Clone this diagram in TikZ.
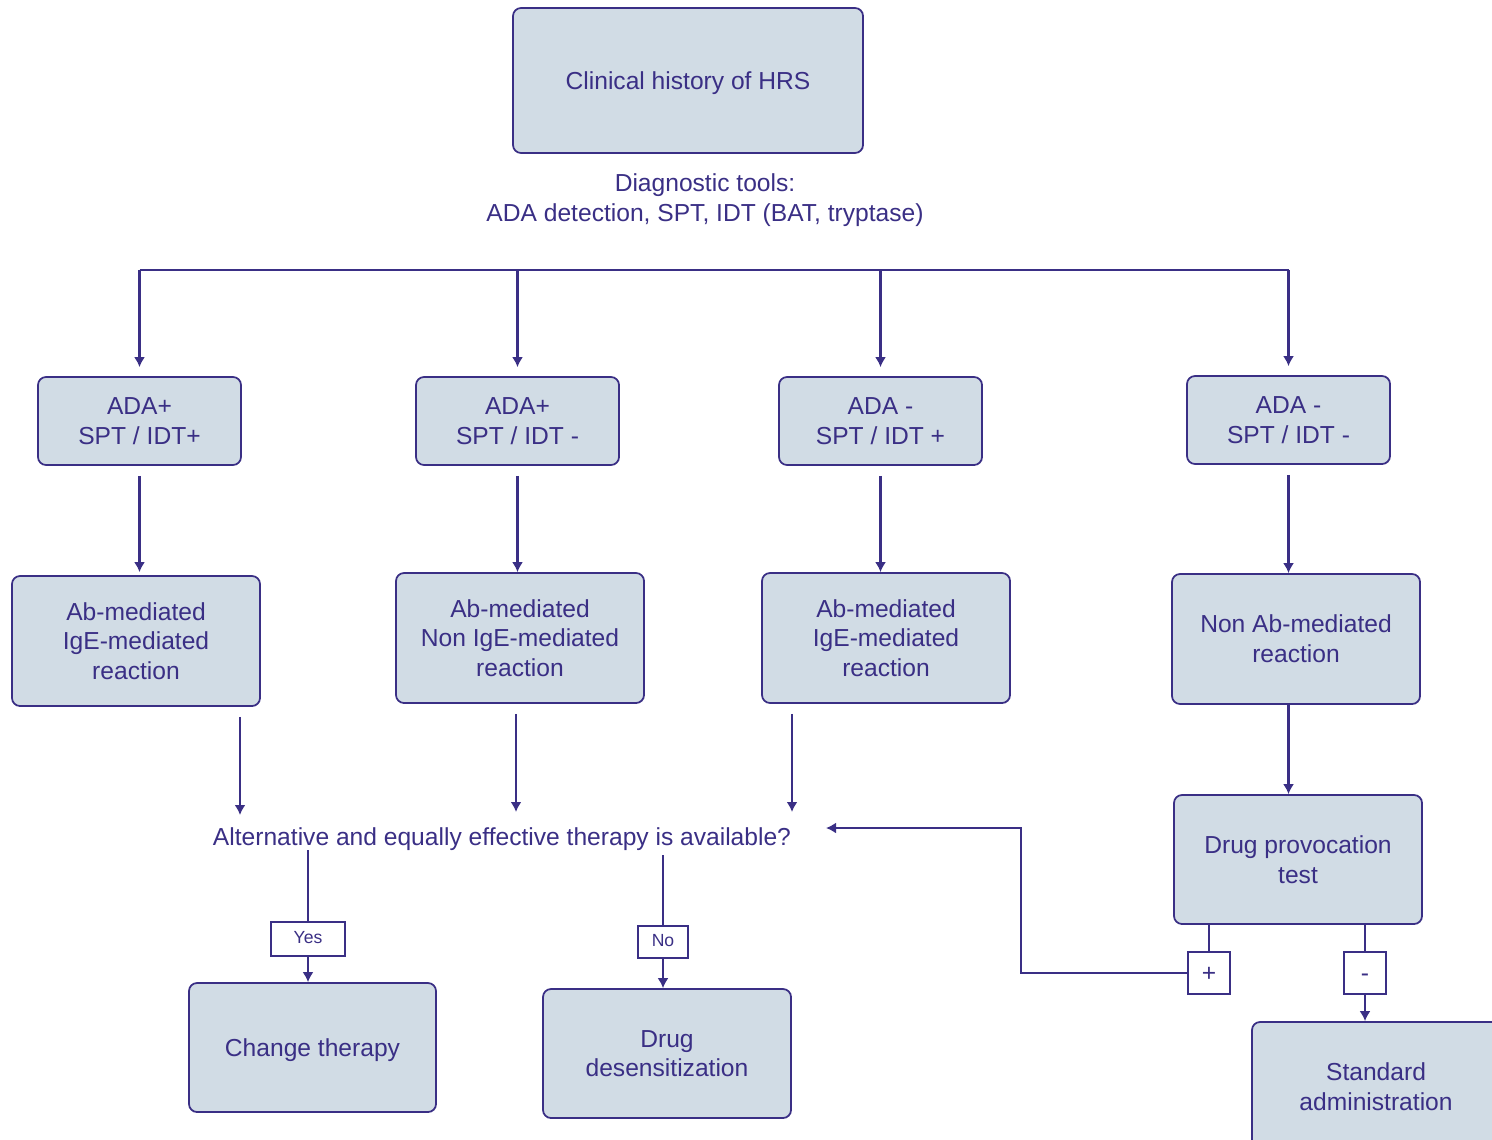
\documentclass[tikz,border=0pt]{standalone}
\usepackage{fontspec}
\setmainfont{Liberation Sans}
\usepackage{tikz}
\usepackage{xcolor}
\usetikzlibrary{arrows.meta}

\definecolor{ink}{HTML}{3A2F85}
\definecolor{boxfill}{HTML}{D1DCE5}

\begin{document}
\begin{tikzpicture}[x=0.2mm, y=-0.2mm, draw=ink, text=ink,
		box/.style={draw=ink, fill=boxfill, rounded corners=1.6mm, line width=0.35mm, align=center, inner sep=0pt, text depth=-0.6mm, font=\fontsize{14}{17}\selectfont},
		tag/.style={draw=ink, fill=white, line width=0.35mm, inner sep=0pt, text height=7.2pt, text depth=2pt, font=\fontsize{10}{12}\selectfont},
		sign/.style={tag, minimum size=8.4mm, text height=10pt, text depth=0pt, font=\fontsize{14}{14}\selectfont},
		flow/.style={-{Latex[length=2mm, width=2.2mm]}, line width=0.5mm},
		link/.style={line width=0.5mm}]
				\useasboundingbox (0,0) rectangle (1492,1139);
				\node[box, minimum width=70mm, minimum height=29mm] (hist) at (688,80.5) {Clinical history of HRS};
				\node[align=center, font=\fontsize{14}{17}\selectfont] (tools) at (705,200) {Diagnostic tools:\\ADA detection, SPT, IDT (BAT, tryptase)};
				\node[box, minimum width=40.6mm, minimum height=17.6mm] (a1) at (139.5,421) {ADA+\\SPT / IDT+};
				\node[box, minimum width=40.6mm, minimum height=17.6mm] (a2) at (517.5,421) {ADA+\\SPT / IDT -};
				\node[box, minimum width=40.6mm, minimum height=17.6mm] (a3) at (880.5,421) {ADA -\\SPT / IDT +};
				\node[box, minimum width=40.6mm, minimum height=17.6mm] (a4) at (1288.5,420) {ADA -\\SPT / IDT -};
				\coordinate (bar) at (0,270);
				\draw[link] (a1.north |- bar) -- (a4.north |- bar);
				\draw[flow, shorten >=1.8mm] (a1.north |- bar) to (a1.north);
				\draw[flow, shorten >=1.8mm] (a2.north |- bar) to (a2.north);
				\draw[flow, shorten >=1.8mm] (a3.north |- bar) to (a3.north);
				\draw[flow, shorten >=1.8mm] (a4.north |- bar) to (a4.north);
				\node[box, minimum width=49.6mm, minimum height=26mm] (r1) at (136,641) {Ab-mediated\\IgE-mediated\\reaction};
				\node[box, minimum width=49.6mm, minimum height=26mm] (r2) at (520,638) {Ab-mediated\\Non IgE-mediated\\reaction};
				\node[box, minimum width=49.6mm, minimum height=26mm] (r3) at (886,638) {Ab-mediated\\IgE-mediated\\reaction};
				\node[box, minimum width=49.6mm, minimum height=26mm] (r4) at (1296,639) {Non Ab-mediated\\reaction};
				\draw[flow, shorten <=2mm, shorten >=0.6mm] (a1.south) to (a1.south |- r1.north);
				\draw[flow, shorten <=2mm] (a2.south) to (a2.south |- r2.north);
				\draw[flow, shorten <=2mm] (a3.south) to (a3.south |- r3.north);
				\draw[flow, shorten <=2mm] (a4.south) to (a4.south |- r4.north);
				\node[font=\fontsize{14}{17}\selectfont] (q) at (502,839) {Alternative and equally effective therapy is available?};
				\coordinate (q1) at (240,815);
				\coordinate (q2) at (516,812);
				\coordinate (q3) at (792,812);
				\draw[flow, shorten <=2mm] (r1.south -| q1) to (q1);
				\draw[flow, shorten <=2mm] (r2.south -| q2) to (q2);
				\draw[flow, shorten <=2mm] (r3.south -| q3) to (q3);
				\node[tag, minimum width=14.8mm, minimum height=6.8mm] (yes) at (308,939) {Yes};
				\node[tag, minimum width=10mm, minimum height=6.4mm] (no) at (663,942) {No};
				\node[box, minimum width=49.4mm, minimum height=25.8mm] (change) at (312.5,1047.5) {Change therapy};
				\node[box, minimum width=49.6mm, minimum height=25.8mm] (desens) at (667,1053.5) {Drug\\desensitization};
				\draw[link] (yes.north |- 0,850) to (yes.north);
				\draw[flow] (yes.south) to (yes.south |- change.north);
				\draw[link] (no.north |- 0,855) to (no.north);
				\draw[flow] (no.south) to (no.south |- desens.north);
				\node[box, minimum width=49.6mm, minimum height=25.8mm] (dpt) at (1298,859.5) {Drug provocation\\test};
				\draw[flow] (r4.south -| a4.south) to (dpt.north -| a4.south);
				\node[sign] (plus) at (1209,973) {+};
				\node[sign] (minus) at (1365,973) {-};
				\node[box, minimum width=49.6mm, minimum height=26mm] (std) at (1376,1087) {Standard\\administration};
				\draw[link] (plus.north |- dpt.south) to (plus.north);
				\draw[link] (minus.north |- dpt.south) to (minus.north);
				\draw[flow] (minus.south) to (minus.south |- std.north);
				\coordinate (back) at (1021,828);
				\coordinate (qin) at (826,828);
				\draw[flow] (plus.west) -| (back) -- (qin);
			\end{tikzpicture}
\end{document}
